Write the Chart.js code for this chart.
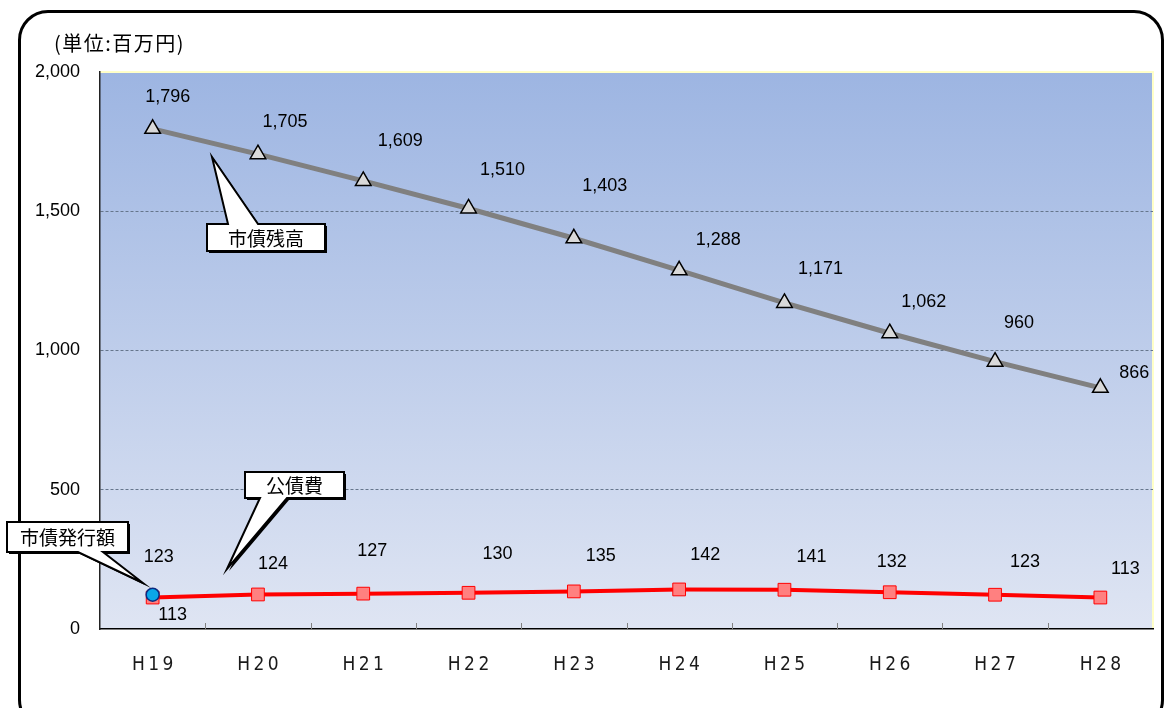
<!DOCTYPE html>
<html lang="ja">
<head>
  <meta charset="UTF-8">
  <title>市債残高と公債費</title>
  <script src="https://cdn.jsdelivr.net/npm/chart.js"></script>
  <style>
    html, body { margin: 0; padding: 0; background: #fff; }
    #wrap { position: relative; width: 1170px; height: 708px; overflow: hidden; }
    #frame {
      position: absolute; left: 18px; top: 10px; width: 1146px; height: 720px;
      border: 3px solid #000; border-radius: 30px; box-sizing: border-box;
    }
    #chart { position: absolute; left: 0; top: 0; }
  </style>
</head>
<body>
<div id="wrap">
  <div id="frame"></div>
  <canvas id="chart" width="1170" height="708"></canvas>
</div>

<script>
  const years = ['H19', 'H20', 'H21', 'H22', 'H23', 'H24', 'H25', 'H26', 'H27', 'H28'];
  const debtBalance = [1796, 1705, 1609, 1510, 1403, 1288, 1171, 1062, 960, 866];   // 市債残高
  const debtService = [113, 124, 127, 130, 135, 142, 141, 132, 123, 113];            // 公債費
  const bondIssue = [123, null, null, null, null, null, null, null, null, null];     // 市債発行額
  const yTicks = [0, 500, 1000, 1500, 2000];

  // hand placed value labels in the original, offsets from each point (px)
  const balanceLabelPos = [[15,-32],[27,-32],[37,-40],[34,-38],[31,-52],[39,-30],[36,-34],[34,-31],[24,-39],[34,-15]];
  const serviceLabelPos = [[20,18],[15,-30],[9,-43],[29,-39],[27,-35],[26,-34],[27,-33],[2,-30],[30,-33],[25,-28]];
  const issueLabelPos = [[6,-38]];

  const numFont = '"Liberation Sans", Arial, sans-serif';
  const jpFont = '"Noto Sans CJK JP", "Noto Sans", sans-serif';

  const plotBg = {
    id: 'plotBg',
    beforeDraw(chart) {
      const { ctx, chartArea: a } = chart;
      const g = ctx.createLinearGradient(0, a.top, 0, a.bottom);
      g.addColorStop(0, '#9db5e2');
      g.addColorStop(1, '#dfe5f3');
      ctx.save();
      ctx.fillStyle = g;
      ctx.fillRect(a.left, a.top, a.right - a.left, a.bottom - a.top);
      // pale top / right edges
      ctx.strokeStyle = '#ffffc8';
      ctx.lineWidth = 2;
      ctx.beginPath();
      ctx.moveTo(a.left, a.top);
      ctx.lineTo(a.right, a.top);
      ctx.lineTo(a.right, a.bottom);
      ctx.stroke();
      // unit label
      ctx.fillStyle = '#000';
      ctx.font = '20px ' + jpFont;
      ctx.letterSpacing = '1.5px';
      ctx.textBaseline = 'middle';
      ctx.fillText('(単位:百万円)', 54, 43);
      ctx.restore();
    },
    afterDatasetsDraw(chart) {
      // small tick marks between categories, pointing into the plot
      const { ctx, chartArea: a } = chart;
      const xs = chart.scales.x;
      const step = xs.getPixelForTick(1) - xs.getPixelForTick(0);
      ctx.save();
      ctx.strokeStyle = '#808080';
      ctx.lineWidth = 1;
      for (let i = 1; i < years.length; i++) {
        const x = Math.round(xs.getPixelForTick(i) - step / 2) + 0.5;
        ctx.beginPath();
        ctx.moveTo(x, a.bottom);
        ctx.lineTo(x, a.bottom - 6);
        ctx.stroke();
      }
      ctx.restore();
    }
  };

  function drawLabels(chart, dsIndex, values, pos) {
    const { ctx } = chart;
    const meta = chart.getDatasetMeta(dsIndex);
    values.forEach((v, i) => {
      if (v == null || !pos[i]) return;
      const p = meta.data[i];
      ctx.fillText(v.toLocaleString('en-US'), p.x + pos[i][0], p.y + pos[i][1]);
    });
  }

  // box with a pointer; side 'top' or 'bottom', base = [bx1, bx2], tip = [tx, ty]
  function callout(ctx, x, y, w, h, side, base, tip, text) {
    const path = () => {
      ctx.beginPath();
      if (side === 'top') {
        ctx.moveTo(x, y);
        ctx.lineTo(base[0], y);
        ctx.lineTo(tip[0], tip[1]);
        ctx.lineTo(base[1], y);
        ctx.lineTo(x + w, y);
        ctx.lineTo(x + w, y + h);
        ctx.lineTo(x, y + h);
      } else {
        ctx.moveTo(x, y);
        ctx.lineTo(x + w, y);
        ctx.lineTo(x + w, y + h);
        ctx.lineTo(base[1], y + h);
        ctx.lineTo(tip[0], tip[1]);
        ctx.lineTo(base[0], y + h);
        ctx.lineTo(x, y + h);
      }
      ctx.closePath();
    };
    ctx.save();
    ctx.fillStyle = '#000';
    ctx.translate(2, 2);
    path();
    ctx.fill();
    ctx.translate(-2, -2);
    path();
    ctx.fillStyle = '#fff';
    ctx.fill();
    ctx.lineWidth = 2;
    ctx.lineJoin = 'miter';
    ctx.strokeStyle = '#000';
    ctx.stroke();
    ctx.fillStyle = '#000';
    ctx.font = '19px ' + jpFont;
    ctx.textAlign = 'center';
    ctx.textBaseline = 'middle';
    ctx.fillText(text, x + w / 2, y + h / 2 + 1);
    ctx.restore();
  }

  const labelsPlugin = {
    id: 'labelsPlugin',
    afterDraw(chart) {
      const { ctx } = chart;
      ctx.save();
      ctx.fillStyle = '#000';
      ctx.font = '18px ' + numFont;
      ctx.textAlign = 'center';
      ctx.textBaseline = 'middle';
      drawLabels(chart, 0, debtBalance, balanceLabelPos);
      drawLabels(chart, 1, debtService, serviceLabelPos);
      drawLabels(chart, 2, bondIssue, issueLabelPos);
      ctx.restore();

      callout(ctx, 207, 224, 118, 27, 'top', [228, 258], [212, 157], '市債残高');
      callout(ctx, 245, 472, 99, 26, 'bottom', [260, 287], [227, 569], '公債費');
      callout(ctx, 7, 522, 121, 30, 'bottom', [78, 103], [143, 583], '市債発行額');
    }
  };

  new Chart(document.getElementById('chart'), {
    type: 'line',
    data: {
      labels: years,
      datasets: [
        {
          label: '市債残高',
          data: debtBalance,
          borderColor: '#808080',
          borderWidth: 5,
          pointStyle: 'triangle',
          pointRadius: 9,
          pointBackgroundColor: '#d9d9d9',
          pointBorderColor: '#000',
          pointBorderWidth: 1.5,
          tension: 0,
          order: 2
        },
        {
          label: '公債費',
          data: debtService,
          borderColor: '#ff0000',
          borderWidth: 4,
          pointStyle: 'rect',
          pointRadius: 9,
          pointBackgroundColor: '#ff8080',
          pointBorderColor: '#ff0000',
          pointBorderWidth: 1,
          tension: 0,
          order: 1
        },
        {
          label: '市債発行額',
          data: bondIssue,
          showLine: false,
          pointStyle: 'circle',
          pointRadius: 6.5,
          pointBackgroundColor: '#0aa6e8',
          pointBorderColor: '#0a2a80',
          pointBorderWidth: 1.5,
          order: 0
        }
      ]
    },
    options: {
      responsive: false,
      animation: false,
      layout: { padding: { top: 72, right: 17, left: 0, bottom: 0 } },
      plugins: {
        legend: { display: false },
        tooltip: { enabled: false }
      },
      scales: {
        x: {
          offset: true,
          grid: { display: false, drawTicks: false },
          border: { display: true, color: '#000', width: 1.5 },
          ticks: {
            padding: 25,
            color: '#1a1a1a',
            font: { family: '"Liberation Sans Narrow", "DejaVu Sans Condensed", sans-serif', size: 19 },
            callback: (v, i) => years[i].split('').join('\u2009')
          },
          afterFit: s => { s.height = 79; }
        },
        y: {
          min: 0,
          max: 2000,
          afterBuildTicks: s => { s.ticks = yTicks.map(v => ({ value: v })); },
          grid: {
            drawTicks: false,
            color: c => (c.tick.value === 0 || c.tick.value === 2000) ? 'rgba(0,0,0,0)' : '#66768c',
            lineWidth: 1
          },
          border: { display: true, color: '#222', width: 1.5, dash: [3, 2] },
          ticks: {
            padding: 20,
            color: '#000',
            font: { family: numFont, size: 18 },
            callback: v => v.toLocaleString('en-US')
          },
          afterFit: s => { s.width = 100; }
        }
      }
    },
    plugins: [plotBg, labelsPlugin]
  });
</script>
</body>
</html>
